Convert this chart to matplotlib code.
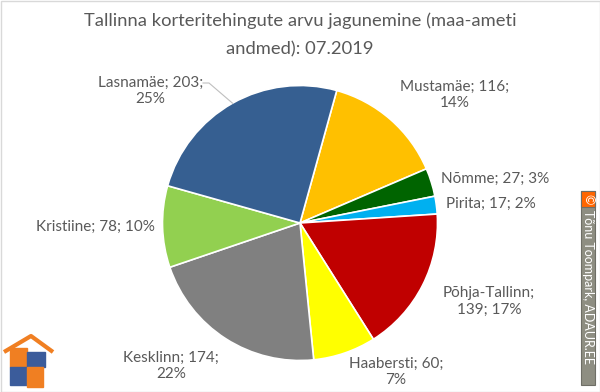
import matplotlib.pyplot as plt
import numpy as np
from matplotlib.patches import Rectangle, Polygon

# ---- data ----
districts = ["Mustamäe", "Nõmme", "Pirita", "Põhja-Tallinn", "Haabersti",
             "Kesklinn", "Kristiine", "Lasnamäe"]
counts = [116, 27, 17, 139, 60, 174, 78, 203]
percents = [14, 3, 2, 17, 7, 22, 10, 25]
colors = ["#FFC000", "#006400", "#00B0F0", "#C00000", "#FFFF00",
          "#808080", "#92D050", "#365F91"]
title_lines = ["Tallinna korteritehingute arvu jagunemine (maa-ameti",
               "andmed): 07.2019"]

# ---- layout (pixel coords, top-down) ----
W, H = 600, 392
CX, CY, R = 300, 223, 137.5
title_y = [21, 49]
label_pos = {
    "Mustamäe": (455, 94.5, "{n}; {v};\n{p}%"),
    "Nõmme": (495, 178.5, "{n}; {v}; {p}%"),
    "Pirita": (491, 203.5, "{n}; {v}; {p}%"),
    "Põhja-Tallinn": (489, 301.5, "{n};\n{v}; {p}%"),
    "Haabersti": (396, 372, "{n}; {v};\n{p}%"),
    "Kesklinn": (171, 366, "{n}; {v};\n{p}%"),
    "Kristiine": (95.5, 227, "{n}; {v}; {p}%"),
    "Lasnamäe": (150.5, 91, "{n}; {v};\n{p}%"),
}

def Y(y):
    return H - y

plt.rcParams['font.family'] = ['Lato', 'DejaVu Sans']
txt_color = "#595959"

fig = plt.figure(figsize=(W / 100, H / 100), dpi=100)
ax = fig.add_axes([0, 0, 1, 1])

wedges, _ = ax.pie(counts, colors=colors, startangle=74.5, counterclock=False,
                   center=(CX, Y(CY)), radius=R,
                   wedgeprops=dict(edgecolor="white", linewidth=1.2))
ax.set_xlim(0, W)
ax.set_ylim(0, H)
ax.set_aspect('auto')
ax.axis('off')

for name, v, p, w in zip(districts, counts, percents, wedges):
    x, y, fmt = label_pos[name]
    ax.text(x, Y(y), fmt.format(n=name, v=v, p=p), ha='center', va='center',
            fontsize=11, color=txt_color, linespacing=1.2)

# leader line for Lasnamäe
w = wedges[districts.index("Lasnamäe")]
mid = np.deg2rad((w.theta1 + w.theta2) / 2)
ex, ey = CX + R * np.cos(mid), Y(CY) + R * np.sin(mid)
ax.plot([203, 209, ex], [Y(83), Y(83), ey], color="#BFBFBF", lw=0.8)

for line, ty in zip(title_lines, title_y):
    ax.text(W / 2, Y(ty), line, ha='center', va='center', fontsize=13.2,
            color=txt_color)

# chart border
ax.add_patch(Rectangle((0.5, 0.5), W - 1, H - 1, fill=False, edgecolor="#D9D9D9", lw=1))

# copyright box
ax.add_patch(Rectangle((581, Y(385)), 14, 194, facecolor="#8E8E82", edgecolor="#6E6E66", lw=0.8))
ax.add_patch(Rectangle((581, Y(207)), 14, 16, facecolor="#FF6600", edgecolor="#6E6E66", lw=0.8))
ax.text(588, Y(199), "©", ha='center', va='center', color='white', fontsize=9, rotation=-90)
ax.text(588, Y(210), "Tõnu Toompark, ADAUR.EE", ha='center', va='top', color='white',
        fontsize=9, rotation=-90)

# logo
orange, blue = "#F07F22", "#3B5C9B"
ax.plot([4, 31, 53], [Y(352), Y(336), Y(352)], color=orange, lw=3, solid_capstyle='butt')
ax.add_patch(Rectangle((10, Y(367)), 17, 19, color=orange))
ax.add_patch(Rectangle((27, Y(367)), 18, 15, color=blue))
ax.add_patch(Rectangle((10, Y(385)), 17, 18, color=blue))
ax.add_patch(Rectangle((27, Y(387)), 16, 20, color=orange))

fig.savefig("out.png", dpi=100)
